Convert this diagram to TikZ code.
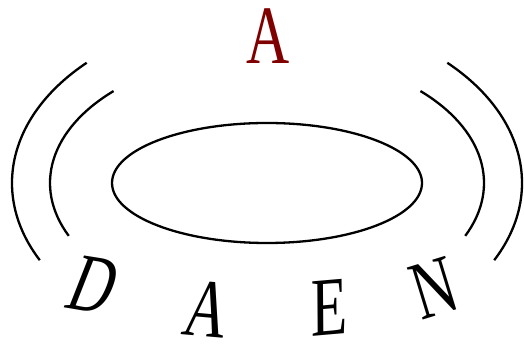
\documentclass[tikz,border=0pt]{standalone}
\usepackage{fontspec}
\newfontfamily\letterfont{Liberation Serif}
\usetikzlibrary{shapes.geometric}
\definecolor{darkred}{RGB}{128,0,0}
\begin{document}
\begin{tikzpicture}[x=1pt,y=1pt,
        wave/.style={line width=2.3pt},
        letter/.style={inner sep=0pt,font=\letterfont\fontsize{83}{83}\selectfont}]
        \useasboundingbox (0,0) rectangle (524,344);
        \node[draw,ellipse,line width=2.3pt,inner sep=0pt,minimum width=310pt,minimum height=120pt] (disk) at (267,161) {};
        
        \draw[wave,shift={(disk.center)}] (135:255 and 170) arc[start angle=135,end angle=207,x radius=255,y radius=170];
        \draw[wave,shift={(disk.center)}] (135:217 and 130) arc[start angle=135,end angle=204,x radius=217,y radius=130];
        \draw[wave,shift={(disk.center)}] (45:255 and 170) arc[start angle=45,end angle=-27,x radius=255,y radius=170];
        \draw[wave,shift={(disk.center)}] (45:217 and 130) arc[start angle=45,end angle=-24,x radius=217,y radius=130];
        
        \node[letter,text=darkred,xscale=0.72] (topA) at (268,308) {A};
        \node[letter,rotate=-9,xslant=0.22,xscale=0.72] (letD) at (94,59) {D};
        \node[letter,rotate=-5,xslant=0.12,xscale=0.72] (letA) at (208,35) {A};
        \node[letter,rotate=5,xslant=0.08,xscale=0.72] (letE) at (329,36) {E};
        \node[letter,rotate=17,xscale=0.72] (letN) at (434,56) {N};
    \end{tikzpicture}
\end{document}
